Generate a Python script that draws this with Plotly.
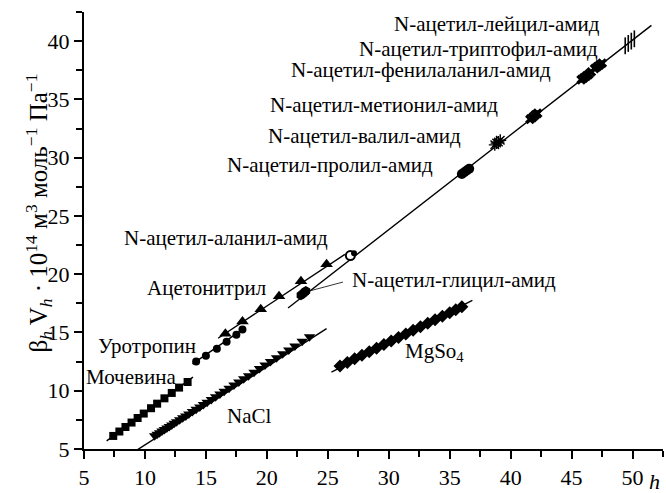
import plotly.graph_objects as go

# --- data -----------------------------------------------------------------
urea_x = [7.4, 7.9, 8.4, 8.9, 9.4, 9.9, 10.5, 11.0, 11.6, 12.2, 12.8, 13.5]
urea_y = [6.12, 6.50, 6.89, 7.27, 7.66, 8.04, 8.50, 8.89, 9.35, 9.81, 10.27, 10.75]
urea_fit_x = [6.86, 13.94]
urea_fit_y = [5.7, 11.17]

urotropin_x = [14.2, 15.0, 15.9, 16.7, 17.5, 18.0]
urotropin_y = [12.5, 13.0, 13.6, 14.2, 14.8, 15.25]
urotropin_fit_x = [13.9, 18.2]
urotropin_fit_y = [12.3, 15.4]

acetonitrile_x = [16.6, 18.0, 19.5, 21.0, 22.8, 24.9]
acetonitrile_y = [14.9, 15.95, 17.0, 18.1, 19.4, 20.85]
acetonitrile_fit_x = [16.0, 26.4]
acetonitrile_fit_y = [14.5, 21.7]

nacl_x = [10.8, 11.0, 11.2, 11.4, 11.6, 11.8, 12.0, 12.2, 12.4, 12.6, 12.85,
          13.1, 13.35, 13.6, 13.9, 14.2, 14.5, 14.8, 15.1, 15.45, 15.8, 16.15,
          16.5, 16.9, 17.3, 17.7, 18.1, 18.5, 18.95, 19.4, 19.85, 20.3, 20.8,
          21.3, 21.8, 22.3, 22.9, 23.5]
nacl_y = [6.13, 6.27, 6.40, 6.54, 6.67, 6.80, 6.94, 7.07, 7.21, 7.34, 7.51,
          7.68, 7.84, 8.01, 8.21, 8.41, 8.61, 8.81, 9.02, 9.25, 9.48, 9.72,
          9.95, 10.22, 10.49, 10.76, 11.03, 11.29, 11.59, 11.90, 12.20, 12.50, 12.83,
          13.17, 13.50, 13.84, 14.24, 14.64]
nacl_fit_x = [9.43, 24.9]
nacl_fit_y = [4.97, 15.33]

mgso4_x = [26.0, 26.6, 27.2, 27.8, 28.4, 29.0, 29.6, 30.2, 30.8, 31.4, 32.0,
           32.6, 33.2, 33.8, 34.4, 35.0, 35.5, 36.0]
mgso4_y = [12.13, 12.43, 12.74, 13.04, 13.35, 13.65, 13.96, 14.26, 14.57, 14.87,
           15.18, 15.48, 15.79, 16.09, 16.40, 16.70, 16.96, 17.21]
mgso4_fit_x = [25.3, 36.86]
mgso4_fit_y = [11.6, 17.75]

# N-acetyl amino acid amides share one fitted line
amide_fit_x = [21.74, 51.55]
amide_fit_y = [17.1, 41.35]

glycyl_x = [22.8, 22.95, 23.1, 23.2]
glycyl_y = [18.2, 18.32, 18.45, 18.55]
alanyl_open_x = [26.85]
alanyl_open_y = [21.6]
alanyl_fill_x = [27.15]
alanyl_fill_y = [21.8]
prolyl_x = [36.0, 36.2, 36.4, 36.6]
prolyl_y = [28.6, 28.75, 28.9, 29.05]
valyl_x = [38.7, 38.85, 39.0, 39.15]
valyl_y = [31.1, 31.25, 31.35, 31.5]
methionyl_x = [41.6, 41.8, 42.0, 42.2]
methionyl_y = [33.3, 33.45, 33.65, 33.8]
phenylalanyl_x = [45.8, 46.0, 46.2, 46.4, 46.6]
phenylalanyl_y = [36.7, 36.85, 37.0, 37.15, 37.35]
tryptophyl_x = [46.9, 47.1, 47.3, 47.5]
tryptophyl_y = [37.65, 37.8, 37.95, 38.1]
leucyl_x = [49.4, 49.65, 49.9, 50.15]
leucyl_y = [39.6, 39.8, 40.0, 40.2]

# text labels: (text, x, y, anchor)
labels = [
    ("N-ацетил-лейцил-амид", 47.47, 41.44, "right"),
    ("N-ацетил-триптофил-амид", 47.30, 39.36, "right"),
    ("N-ацетил-фенилаланил-амид", 43.44, 37.52, "right"),
    ("N-ацетил-метионил-амид", 39.10, 34.52, "right"),
    ("N-ацетил-валил-амид", 36.06, 31.86, "right"),
    ("N-ацетил-пролил-амид", 33.76, 29.36, "right"),
    ("N-ацетил-аланил-амид", 25.15, 23.11, "right"),
    ("Ацетонитрил", 20.06, 18.80, "right"),
    ("N-ацетил-глицил-амид", 26.80, 19.53, "left"),
    ("Уротропин", 14.33, 13.80, "right"),
    ("Мочевина", 12.70, 11.19, "right"),
    ("NaCl", 16.54, 7.86, "left"),
    ("MgSo<sub>4</sub>", 31.14, 13.36, "left"),
]

x_ticks = [5, 10, 15, 20, 25, 30, 35, 40, 45, 50]
y_ticks = [5, 10, 15, 20, 25, 30, 35, 40]

FONT = "'Liberation Serif', 'Times New Roman', 'DejaVu Serif', serif"
BLACK = "black"

fig = go.Figure()


def fit_line(xs, ys):
    fig.add_trace(go.Scatter(x=xs, y=ys, mode="lines",
                             line=dict(color=BLACK, width=1.4),
                             hoverinfo="skip", showlegend=False))


def points(xs, ys, symbol, size, lw=0):
    fig.add_trace(go.Scatter(
        x=xs, y=ys, mode="markers", showlegend=False,
        marker=dict(symbol=symbol, size=size, color=BLACK,
                    line=dict(color=BLACK, width=lw))))


for fx, fy in [(urea_fit_x, urea_fit_y), (urotropin_fit_x, urotropin_fit_y),
               (acetonitrile_fit_x, acetonitrile_fit_y), (nacl_fit_x, nacl_fit_y),
               (mgso4_fit_x, mgso4_fit_y), (amide_fit_x, amide_fit_y)]:
    fit_line(fx, fy)

points(urea_x, urea_y, "square", 8)
points(urotropin_x, urotropin_y, "circle", 8)
points(acetonitrile_x, acetonitrile_y, "triangle-up", 11)
points(nacl_x, nacl_y, "triangle-down", 10)
points(mgso4_x, mgso4_y, "diamond", 10)

points(glycyl_x, glycyl_y, "hexagon", 10)
fig.add_trace(go.Scatter(x=alanyl_open_x, y=alanyl_open_y, mode="markers", showlegend=False,
                         marker=dict(symbol="circle", size=9, color="white",
                                     line=dict(color=BLACK, width=2))))
points(alanyl_fill_x, alanyl_fill_y, "circle", 6)
points(prolyl_x, prolyl_y, "circle", 10)
points(valyl_x, valyl_y, "asterisk-open", 10, lw=1.4)
points(methionyl_x, methionyl_y, "x", 9)
points(phenylalanyl_x, phenylalanyl_y, "x", 9)
points(tryptophyl_x, tryptophyl_y, "x", 9)
points(leucyl_x, leucyl_y, "line-ns-open", 12, lw=1.6)

for text, lx, ly, anchor in labels:
    fig.add_annotation(x=lx, y=ly, xref="x", yref="y", text=text,
                       showarrow=False, xanchor=anchor, yanchor="middle",
                       font=dict(family=FONT, size=21, color=BLACK))

# leader from the glycyl label to its points
fig.add_annotation(x=23.64, y=18.6, xref="x", yref="y",
                   ax=26.37, ay=19.36, axref="x", ayref="y",
                   text="", showarrow=True, arrowhead=0, arrowwidth=0.8,
                   arrowcolor=BLACK)

# axis titles
fig.add_annotation(x=-0.113, y=0.54, xref="paper", yref="paper",
                   text="β<sub><i>h</i></sub> V<sub><i>h</i></sub> · 10<sup>14</sup> м<sup>3</sup> моль<sup>−1</sup> Па<sup>−1</sup>",
                   textangle=-90, showarrow=False,
                   font=dict(family=FONT, size=25, color=BLACK))
fig.add_annotation(x=0.985, y=-0.074, xref="paper", yref="paper",
                   text="<i>h</i>", showarrow=False, xanchor="center", yanchor="middle",
                   font=dict(family=FONT, size=22, color=BLACK))

axis_common = dict(
    showline=True, linecolor=BLACK, linewidth=2, mirror=False,
    showgrid=False, zeroline=False,
    ticks="outside", ticklen=8, tickwidth=1.5, tickcolor=BLACK,
    tickfont=dict(family=FONT, size=22, color=BLACK),
    minor=dict(ticks="outside", ticklen=6, tickwidth=1.5, tickcolor=BLACK, dtick=2.5, showgrid=False),
)

fig.update_xaxes(range=[5, 52.5], tickvals=x_ticks, ticktext=[str(v) for v in x_ticks],
                 ticklabelstandoff=0, **axis_common)
fig.update_yaxes(range=[5, 42.5], tickvals=y_ticks, ticktext=[str(v) for v in y_ticks],
                 **axis_common)

fig.update_layout(
    width=666, height=493,
    margin=dict(l=84, r=3, t=12, b=31),
    plot_bgcolor="white", paper_bgcolor="white",
    font=dict(family=FONT, color=BLACK),
    showlegend=False,
)

fig.write_html("out.html")
